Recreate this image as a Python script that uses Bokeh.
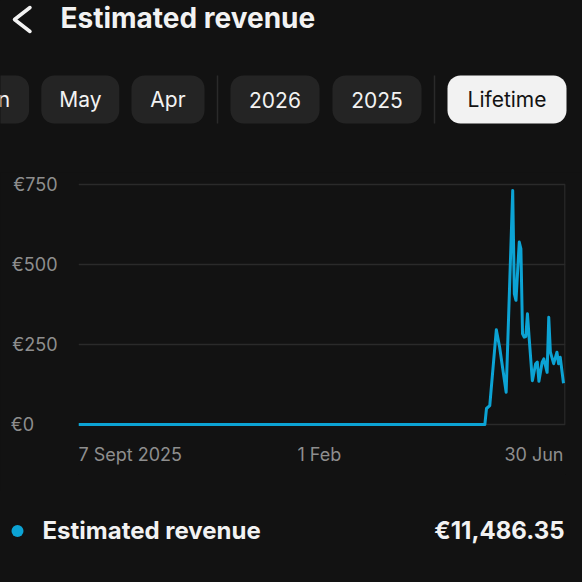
import pandas as pd
from bokeh.plotting import figure
from bokeh.layouts import column
from bokeh.models import Range1d, FixedTicker, Label, BoxAnnotation, ColumnDataSource
from bokeh.core.properties import value
from bokeh.embed import file_html
from bokeh.resources import INLINE

# ---------------- data ----------------
dates = ["2025-09-07", "2026-05-13", "2026-05-14", "2026-05-16", "2026-05-20",
         "2026-05-22", "2026-05-26", "2026-05-30", "2026-05-31", "2026-06-01",
         "2026-06-03", "2026-06-04", "2026-06-05", "2026-06-06", "2026-06-07",
         "2026-06-08", "2026-06-09", "2026-06-11", "2026-06-13", "2026-06-14",
         "2026-06-15", "2026-06-17", "2026-06-18", "2026-06-20", "2026-06-21",
         "2026-06-22", "2026-06-24", "2026-06-26", "2026-06-27", "2026-06-28",
         "2026-06-30"]
revenue = [0, 0, 50, 59, 296,
           242, 101, 731, 408, 388,
           570, 549, 283, 273, 275,
           346, 273, 137, 190, 195,
           135, 195, 205, 163, 335,
           226, 190, 226, 190, 210,
           129]

y_ticks = [0, 250, 500, 750]
y_tick_labels = ["€0", "€250", "€500", "€750"]
x_tick_dates = ["2025-09-07", "2026-02-01", "2026-06-30"]
x_tick_labels = ["7 Sept 2025", "1 Feb", "30 Jun"]
x_tick_align = ["left", "center", "right"]

title_text = "Estimated revenue"
period_tabs = ["Jun", "May", "Apr", "2026", "2025", "Lifetime"]
selected_tab = "Lifetime"
series_name = "Estimated revenue"
total_text = "€11,486.35"

# ---------------- style ----------------
BG = "#121212"
PILL = "#242424"
PILL_SEL = "#f2f2f2"
SEP = "#2a2a2a"
GRID = "#2a2a2a"
BLUE = "#0ca3d4"
WHITE = "#f2f2f2"
GREY = "#8e8e8e"
FONT = "Inter"
W = 582

HEAD_H = 172          # page rows 0..172
CHART_H = 318         # page rows 172..490
LEG_H = W - HEAD_H - CHART_H

# chart frame in page pixels
FL, FR, FT, FB = 78, 565, 180, 474
ZERO_Y, TOP_Y = 424, 184      # page rows of 0 and 750


def plain_fig(h, y0):
    f = figure(width=W, height=h, x_range=Range1d(0, W), y_range=Range1d(y0 + h, y0),
               output_backend="svg", toolbar_location=None,
               x_axis_location=None, y_axis_location=None,
               min_border=0, min_border_left=0, min_border_right=0,
               min_border_top=0, min_border_bottom=0,
               background_fill_color=BG, border_fill_color=BG,
               outline_line_color=None, frame_align=False)
    f.grid.visible = False
    return f


# ---------------- header ----------------
head = plain_fig(HEAD_H, 0)
head.line(x=[29.5, 14.0, 29.5], y=[7.0, 19.0, 31.0], line_color=WHITE, line_width=3.5,
          line_join="round", line_cap="round")
head.add_layout(Label(x=60, y=17.8, text=title_text, text_font=FONT,
                      text_font_style="bold", text_font_size="28px", text_color=WHITE,
                      text_baseline="middle", text_align="left"))

pill_bounds = [(-60, 28.6), (40.8, 118.8), (131, 204), (230, 319), (332, 421), (447, 566)]
for name, (a, b) in zip(period_tabs, pill_bounds):
    sel = name == selected_tab
    head.add_layout(BoxAnnotation(left=a, right=b, top=75, bottom=123,
                                  fill_color=PILL_SEL if sel else PILL, fill_alpha=1,
                                  line_color=None, border_radius=13))
for name, (a, b) in zip(period_tabs, pill_bounds):
    sel = name == selected_tab
    if b < 40:
        tx, al = b - 19, "right"
    else:
        tx, al = (a + b) / 2, "center"
    head.add_layout(Label(x=tx, y=99.2, text=name, text_font=FONT, text_font_size="21px",
                          text_color=BG if sel else WHITE,
                          text_baseline="middle", text_align=al))

for sep_x in (217, 434):
    head.add_layout(BoxAnnotation(left=sep_x - 0.75, right=sep_x + 0.75, top=75, bottom=123,
                                  fill_color=SEP, fill_alpha=1, line_color=None))

# ---------------- chart ----------------
x = pd.to_datetime(dates)
px_per_day = (563 - FL) / (x[-1] - x[0]).days
x_end = x[0] + pd.Timedelta(days=(FR - FL) / px_per_day)
px_per_eur = (ZERO_Y - TOP_Y) / 750.0
y_start = -(FB - ZERO_Y) / px_per_eur
y_end = 750 + (TOP_Y - FT) / px_per_eur

p = figure(width=W, height=CHART_H, x_axis_type="datetime",
           x_range=Range1d(x[0], x_end), y_range=Range1d(y_start, y_end),
           output_backend="svg", toolbar_location=None, x_axis_location=None,
           min_border_left=FL, min_border_right=W - FR,
           min_border_top=FT - HEAD_H, min_border_bottom=HEAD_H + CHART_H - FB,
           background_fill_color=BG, border_fill_color=BG,
           outline_line_color=None, frame_align=False)

fs = "\u2007"
y_over = {}
for t, lab in zip(y_ticks, y_tick_labels):
    pad = max(len(l) for l in y_tick_labels) - len(lab)
    y_over[t] = lab + fs * pad
ax = p.yaxis[0]
ax.ticker = FixedTicker(ticks=y_ticks)
ax.major_label_overrides = y_over
ax.axis_line_color = None
ax.major_tick_line_color = None
ax.minor_tick_line_color = None
ax.major_tick_in = 0
ax.major_tick_out = 0
ax.minor_tick_in = 0
ax.minor_tick_out = 0
ax.major_label_text_font = FONT
ax.major_label_text_font_size = "18px"
ax.major_label_text_color = GREY
ax.major_label_standoff = 21

p.ygrid.ticker = FixedTicker(ticks=y_ticks)
p.ygrid.grid_line_color = GRID
p.ygrid.grid_line_width = 1.5
p.xgrid.grid_line_color = None

# right border of the chart area
border_x = x[-1] + pd.Timedelta(days=0.9)
p.segment(x0=[border_x], y0=[y_ticks[0]], x1=[border_x], y1=[y_ticks[-1]],
          line_color=GRID, line_width=1.5)

# x tick labels, placed through the date scale
tick_src = ColumnDataSource(dict(x=pd.to_datetime(x_tick_dates),
                                 y=[y_ticks[0]] * len(x_tick_dates),
                                 text=x_tick_labels, align=x_tick_align))
p.text(x="x", y="y", text="text", text_align="align", source=tick_src,
       y_offset=29.5, text_baseline="middle", text_font=value(FONT),
       text_font_size="18px", text_color=GREY)

# series
p.line(x=x, y=revenue, line_color=BLUE, line_width=3, line_join="round")

# ---------------- legend row ----------------
leg = plain_fig(LEG_H, HEAD_H + CHART_H)
leg.scatter(x=[17], y=[530.5], size=12, marker="circle", fill_color=BLUE, line_color=None)
leg.add_layout(Label(x=42, y=530, text=series_name, text_font=FONT,
                     text_font_style="bold", text_font_size="24px", text_color=WHITE,
                     text_baseline="middle", text_align="left"))
leg.add_layout(Label(x=564, y=530, text=total_text, text_font=FONT,
                     text_font_style="bold", text_font_size="24px", text_color=WHITE,
                     text_baseline="middle", text_align="right"))

page = column(head, p, leg, spacing=0)
html = file_html(page, INLINE)
html = html.replace("</head>", "<style>html,body{background:#121212;}</style></head>", 1)
open("out.html", "w").write(html)
